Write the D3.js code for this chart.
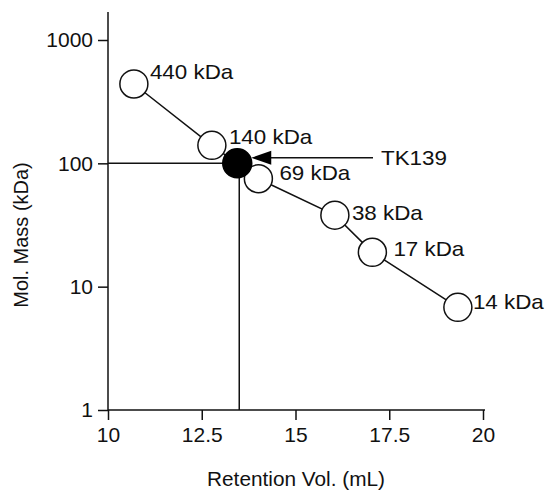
<!DOCTYPE html>
<html>
<head>
<meta charset="utf-8">
<title>Retention volume calibration</title>
<script src="https://cdnjs.cloudflare.com/ajax/libs/d3/7.8.5/d3.min.js"></script>
<style>
  body { margin: 0; background: #fff; }
  svg text { font-family: "Liberation Sans", Arial, sans-serif; fill: #111; }
</style>
</head>
<body>
<script>
// calibration standards
var retention = [10.69, 12.77, 14.01, 16.05, 17.05, 19.33];
var mass = [440, 140, 75, 38, 19, 6.8];
var standardLabels = ["440 kDa", "140 kDa", "69 kDa", "38 kDa", "17 kDa", "14 kDa"];

// the unknown sample
var sampleName = "TK139";
var sampleRetention = [13.5];
var sampleMass = [100];

var xTicks = [10, 12.5, 15, 17.5, 20];
var yTicks = [1, 10, 100, 1000];

var width = 551, height = 492;

var svg = d3.select("body").append("svg")
    .attr("width", width)
    .attr("height", height);

var x = d3.scaleLinear().domain([10, 20]).range([108, 483]);
var y = d3.scaleLog().domain([1, 1000]).range([410, 40]);

// axes
var xAxis = d3.axisBottom(x)
    .tickValues(xTicks)
    .tickSize(10)
    .tickPadding(7)
    .tickFormat(function (d) { return d; });
var yAxis = d3.axisLeft(y)
    .tickValues(yTicks)
    .tickSize(10)
    .tickPadding(5)
    .tickFormat(function (d) { return d; });

var gx = svg.append("g").attr("transform", "translate(0," + y(1) + ")").call(xAxis);
var gy = svg.append("g").attr("transform", "translate(" + x(10) + ",0)").call(yAxis);

[gx, gy].forEach(function (g) {
    g.select(".domain").remove();
    g.selectAll(".tick line").attr("stroke", "#111").attr("stroke-width", 1.5);
    g.selectAll(".tick text").attr("font-size", 21).attr("fill", "#111")
        .style("font-family", "'Liberation Sans', Arial, sans-serif");
});

// axis lines drawn by hand so they can run past the last tick
svg.append("line")
    .attr("x1", x(10)).attr("x2", x(20) + 2)
    .attr("y1", y(1)).attr("y2", y(1))
    .attr("stroke", "#111").attr("stroke-width", 1.5);
svg.append("line")
    .attr("x1", x(10)).attr("x2", x(10))
    .attr("y1", y(1)).attr("y2", 12)
    .attr("stroke", "#111").attr("stroke-width", 1.5);

// axis titles
svg.append("text")
    .attr("transform", "translate(296,486) scale(1.04,1)")
    .attr("text-anchor", "middle")
    .attr("font-size", 20)
    .text("Retention Vol. (mL)");
svg.append("text")
    .attr("transform", "translate(28,235) rotate(-90)")
    .attr("text-anchor", "middle")
    .attr("font-size", 20)
    .text("Mol. Mass (kDa)");

// guide lines from the sample to the axes
svg.append("line")
    .attr("x1", x(10)).attr("x2", x(sampleRetention[0]))
    .attr("y1", y(sampleMass[0])).attr("y2", y(sampleMass[0]))
    .attr("stroke", "#111").attr("stroke-width", 1.5);
svg.append("line")
    .attr("x1", x(sampleRetention[0])).attr("x2", x(sampleRetention[0]))
    .attr("y1", y(sampleMass[0])).attr("y2", y(1))
    .attr("stroke", "#111").attr("stroke-width", 1.5);

// calibration line
var pts = retention.map(function (r, i) { return [r, mass[i], standardLabels[i]]; });
svg.append("path")
    .datum(pts)
    .attr("fill", "none")
    .attr("stroke", "#111")
    .attr("stroke-width", 1.5)
    .attr("d", d3.line().x(function (d) { return x(d[0]); }).y(function (d) { return y(d[1]); }));

var r = 14;
svg.selectAll("circle.std")
    .data(pts)
    .enter().append("circle")
    .attr("class", "std")
    .attr("cx", function (d) { return x(d[0]); })
    .attr("cy", function (d) { return y(d[1]); })
    .attr("r", r)
    .attr("fill", "#fff")
    .attr("stroke", "#111")
    .attr("stroke-width", 1.5);

// label nudges (dx, dy) so text sits where the original has it
var nudge = [[16, -5], [17, -1], [21, 1], [17, 5], [21, 4], [15, 2]];
var stretch = 1.12; // the original lettering is a bit wider than Liberation Sans
svg.selectAll("text.std")
    .data(pts)
    .enter().append("text")
    .attr("class", "std")
    .attr("transform", function (d, i) {
        return "translate(" + (x(d[0]) + nudge[i][0]) + "," + (y(d[1]) + nudge[i][1]) + ") scale(" + stretch + ",1)";
    })
    .attr("font-size", 20)
    .text(function (d) { return d[2]; });

// sample point
var sx = x(sampleRetention[0]), sy = y(sampleMass[0]);
svg.append("circle")
    .attr("cx", sx - 2).attr("cy", sy)
    .attr("r", r + 0.5)
    .attr("fill", "#000")
    .attr("stroke", "#000")
    .attr("stroke-width", 1.5);

// arrow pointing at the sample
var ay = sy - 5.5;
svg.append("line")
    .attr("x1", sx + 30).attr("x2", 373)
    .attr("y1", ay).attr("y2", ay)
    .attr("stroke", "#111").attr("stroke-width", 1.5);
svg.append("path")
    .attr("d", "M" + (sx + 12) + "," + ay + " L" + (sx + 32) + "," + (ay - 7) + " L" + (sx + 32) + "," + (ay + 7) + "Z")
    .attr("fill", "#000");
svg.append("text")
    .attr("transform", "translate(381," + (ay + 7) + ") scale(" + stretch + ",1)")
    .attr("font-size", 20)
    .text(sampleName);
</script>
</body>
</html>
